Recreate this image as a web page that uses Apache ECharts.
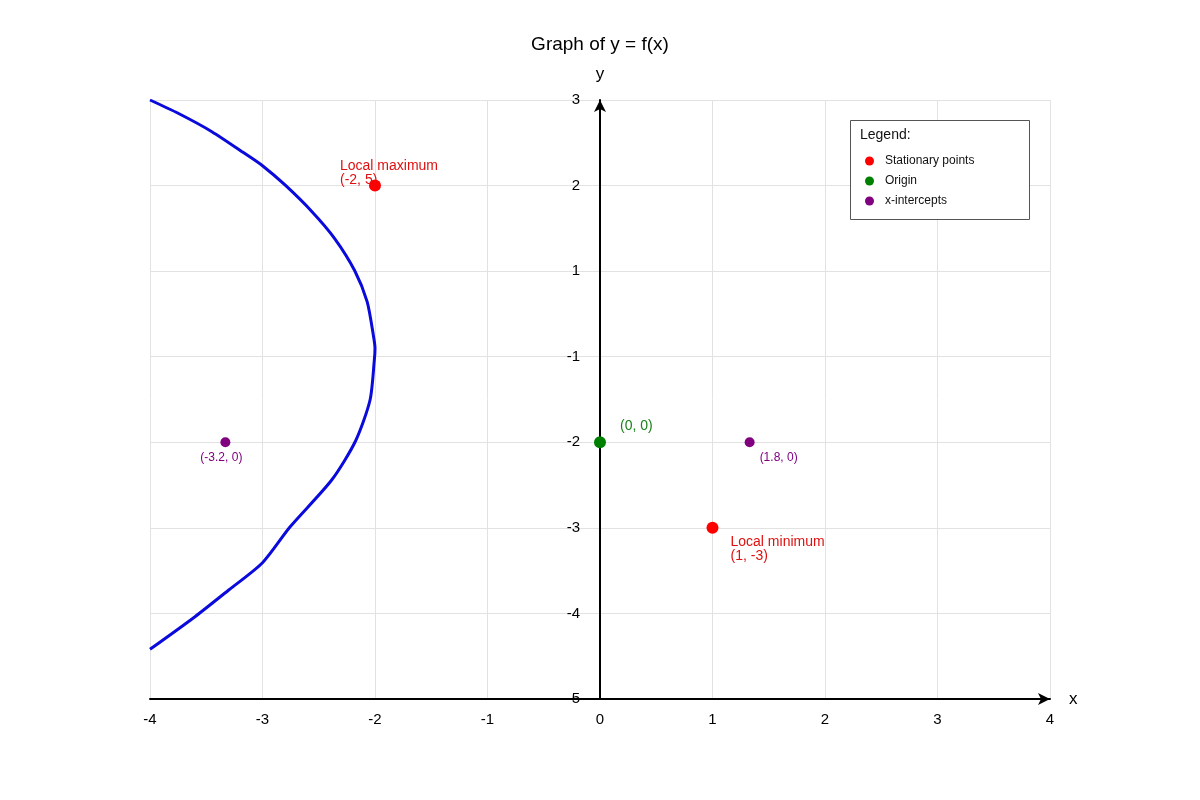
<!DOCTYPE html>
<html>

<head>
    <meta charset="utf-8">
    <title>Graph of y = f(x)</title>
    <script src="https://cdn.jsdelivr.net/npm/echarts@6/dist/echarts.min.js"></script>
</head>

<body style="margin:0">
    <div id="main" style="width:1200px;height:800px;"></div>
    <script type="text/javascript">

        // tick labels (y axis is drawn on an index scale 0..7)
        var xTicks = [-4, -3, -2, -1, 0, 1, 2, 3, 4];
        var yTickLabels = ['-5', '-4', '-3', '-2', '-1', '1', '2', '3'];

        // curve: [x, y-index]
        var curveX = [-4.0, -3.75, -3.45, -3.16, -3.0, -2.8, -2.56, -2.36, -2.18, -2.07, -2.015, -2.0, -2.006, -2.044, -2.173, -2.385, -2.756, -3.0, -3.3, -3.6, -4.0];
        var curveY = [7.0, 6.845, 6.63, 6.377, 6.232, 6.007, 5.695, 5.384, 5.005, 4.643, 4.254, 4.1, 3.96, 3.494, 3.015, 2.559, 2.01, 1.593, 1.274, 0.962, 0.581];

        // marked points
        var statX = [-2, 1];
        var statY = [6, 2];
        var statText = ['Local maximum\n(-2, 5)', 'Local minimum\n(1, -3)'];
        var originX = [0];
        var originY = [3];
        var originText = ['(0, 0)'];
        var interX = [-3.33, 1.33];
        var interY = [3, 3];
        var interText = ['(-3.2, 0)', '(1.8, 0)'];

        var curve = [];
        for (var i = 0; i < curveX.length; i++) {
            curve.push([curveX[i], curveY[i]]);
        }

        var statData = [
            { value: [statX[0], statY[0]], label: { formatter: statText[0], position: [-29, -6] } },
            { value: [statX[1], statY[1]], label: { formatter: statText[1], position: [24, 27] } }
        ];
        var originData = [
            { value: [originX[0], originY[0]], label: { formatter: originText[0], position: [26, -10] } }
        ];
        var interData = [
            { value: [interX[0], interY[0]], label: { formatter: interText[0], position: [1, 20], align: 'center' } },
            { value: [interX[1], interY[1]], label: { formatter: interText[1], position: [15, 20] } }
        ];

        var font = 'Liberation Sans, Arial, sans-serif';

        var myChart = echarts.init(document.getElementById('main'));
        var option = {
            animation: false,
            textStyle: { fontFamily: font },
            title: {
                left: 'center',
                top: 30,
                text: 'Graph of y = f(x)',
                textStyle: { fontWeight: 'normal', fontSize: 19, color: '#000', fontFamily: font }
            },
            grid: { left: 150, right: 150, top: 100, bottom: 101 },
            legend: {
                orient: 'vertical',
                left: 860,
                top: 149,
                itemGap: 6,
                itemWidth: 9,
                itemHeight: 9,
                icon: 'circle',
                z: 21,
                textStyle: { fontSize: 12, color: '#111', lineHeight: 14, padding: [0, 0, 0, 6] },
                data: ['Stationary points', 'Origin', 'x-intercepts']
            },
            graphic: [
                {
                    type: 'rect',
                    shape: { x: 850.5, y: 120.5, width: 179, height: 99 },
                    style: { fill: '#fff', stroke: '#555', lineWidth: 1 },
                    z: 20
                },
                {
                    type: 'text',
                    x: 860,
                    y: 128,
                    style: { text: 'Legend:', fontSize: 14, fill: '#111', fontFamily: font },
                    z: 21
                }
            ],
            xAxis: {
                type: 'value',
                min: -4,
                max: 4,
                interval: 1,
                name: 'x',
                nameGap: 19,
                nameTextStyle: { fontSize: 17, color: '#000' },
                axisLine: { onZero: false, symbol: ['none', 'arrow'], symbolSize: [9, 12], lineStyle: { color: '#000', width: 2 } },
                axisTick: { show: false },
                axisLabel: { fontSize: 15, color: '#000', margin: 13 },
                splitLine: { show: true, lineStyle: { color: '#e2e2e2' } }
            },
            yAxis: {
                type: 'value',
                min: 0,
                max: 7,
                interval: 1,
                offset: -450,
                name: 'y',
                nameGap: 17,
                nameTextStyle: { fontSize: 17, color: '#000' },
                axisLine: { onZero: false, symbol: ['none', 'arrow'], symbolSize: [9, 12], lineStyle: { color: '#000', width: 2 } },
                axisTick: { show: false },
                axisLabel: {
                    fontSize: 15,
                    color: '#000',
                    margin: 20,
                    formatter: function (v) { return yTickLabels[Math.round(v)]; }
                },
                splitLine: { show: true, lineStyle: { color: '#e2e2e2' } }
            },
            series: [
                {
                    name: 'curve',
                    type: 'line',
                    data: curve,
                    smooth: 0.25,
                    showSymbol: false,
                    lineStyle: { color: '#0a0adc', width: 3, join: 'round' },
                    z: 3,
                    silent: true
                },
                {
                    name: 'Stationary points',
                    type: 'scatter',
                    data: statData,
                    symbolSize: 12,
                    itemStyle: { color: '#f00', opacity: 1 },
                    label: { show: true, color: '#e01010', fontSize: 14, lineHeight: 14, align: 'left', verticalAlign: 'middle' },
                    z: 4
                },
                {
                    name: 'Origin',
                    type: 'scatter',
                    data: originData,
                    symbolSize: 12,
                    itemStyle: { color: '#008000', opacity: 1 },
                    label: { show: true, color: '#1a801a', fontSize: 14, align: 'left', verticalAlign: 'middle' },
                    z: 4
                },
                {
                    name: 'x-intercepts',
                    type: 'scatter',
                    data: interData,
                    symbolSize: 10,
                    itemStyle: { color: '#800080', opacity: 1 },
                    label: { show: true, color: '#800080', fontSize: 12, align: 'left', verticalAlign: 'middle' },
                    z: 4
                }
            ]
        };
        myChart.setOption(option);
    </script>
</body>

</html>
